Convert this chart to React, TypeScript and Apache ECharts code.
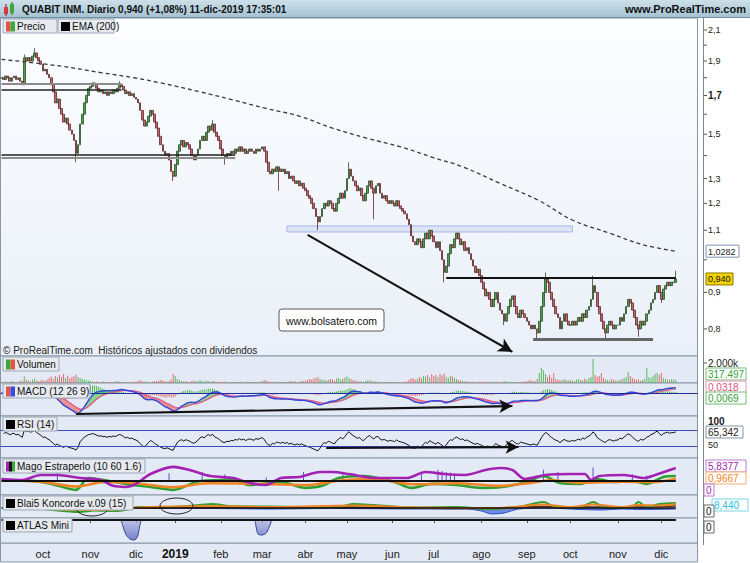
import React, { useEffect, useRef } from 'react';
import * as echarts from 'echarts';

const FONT = '"Liberation Sans", Arial, Helvetica, sans-serif';

// ---- daily closes, by month ----
const closeSep18 = [1.80, 1.79, 1.81, 1.80, 1.78, 1.80, 1.81, 1.79, 1.80, 1.78, 1.76, 1.92, 1.90, 1.92, 1.90, 1.93, 1.95, 1.92, 1.90, 1.88];
const closeOct18 = [1.84, 1.85, 1.82, 1.80, 1.76, 1.72, 1.66, 1.68, 1.63, 1.60, 1.56, 1.58, 1.55, 1.52, 1.50, 1.47, 1.41, 1.45, 1.55, 1.60, 1.66, 1.70, 1.74];
const closeNov18 = [1.75, 1.77, 1.76, 1.74, 1.72, 1.73, 1.71, 1.72, 1.70, 1.72, 1.71, 1.73, 1.72, 1.74, 1.76, 1.75, 1.73, 1.71, 1.72, 1.70, 1.71, 1.69];
const closeDec18 = [1.68, 1.66, 1.62, 1.57, 1.54, 1.56, 1.59, 1.62, 1.60, 1.56, 1.53, 1.49, 1.45, 1.42, 1.40, 1.41, 1.38, 1.33, 1.31];
const closeJan19 = [1.36, 1.42, 1.45, 1.47, 1.44, 1.46, 1.45, 1.43, 1.40, 1.38, 1.40, 1.43, 1.47, 1.49, 1.47, 1.51, 1.54, 1.52, 1.55, 1.51, 1.49, 1.47];
const closeFeb19 = [1.43, 1.40, 1.39, 1.41, 1.40, 1.42, 1.41, 1.43, 1.42, 1.44, 1.42, 1.43, 1.41, 1.42, 1.43, 1.42, 1.41, 1.43, 1.42, 1.43];
const closeMar19 = [1.44, 1.42, 1.37, 1.33, 1.32, 1.34, 1.33, 1.35, 1.34, 1.33, 1.34, 1.32, 1.33, 1.30, 1.31, 1.29, 1.28, 1.29, 1.27, 1.28, 1.26];
const closeApr19 = [1.25, 1.23, 1.22, 1.20, 1.18, 1.15, 1.13, 1.15, 1.18, 1.20, 1.19, 1.21, 1.20, 1.18, 1.17, 1.20, 1.22, 1.24, 1.22, 1.25];
const closeMay19 = [1.30, 1.34, 1.31, 1.29, 1.27, 1.25, 1.26, 1.23, 1.21, 1.24, 1.27, 1.29, 1.26, 1.24, 1.27, 1.28, 1.24, 1.22, 1.23, 1.21, 1.20, 1.21];
const closeJun19 = [1.20, 1.19, 1.21, 1.19, 1.18, 1.17, 1.16, 1.14, 1.12, 1.08, 1.06, 1.05, 1.07, 1.06, 1.04, 1.07, 1.09, 1.07, 1.10, 1.08];
const closeJul19 = [1.06, 1.04, 1.06, 1.03, 1.00, 0.96, 0.98, 1.02, 1.05, 1.04, 1.07, 1.09, 1.07, 1.05, 1.06, 1.03, 1.04, 1.02, 1.00, 0.98, 0.96, 0.97, 0.95];
const closeAug19 = [0.93, 0.91, 0.89, 0.90, 0.88, 0.86, 0.88, 0.90, 0.87, 0.85, 0.84, 0.82, 0.84, 0.86, 0.88, 0.89, 0.86, 0.84, 0.83, 0.85, 0.84, 0.83];
const closeSep19 = [0.82, 0.81, 0.80, 0.81, 0.80, 0.79, 0.82, 0.86, 0.90, 0.94, 0.93, 0.90, 0.88, 0.86, 0.84, 0.83, 0.80, 0.82, 0.84, 0.82, 0.81];
const closeOct19 = [0.81, 0.82, 0.81, 0.82, 0.83, 0.82, 0.84, 0.83, 0.85, 0.86, 0.88, 0.92, 0.90, 0.86, 0.84, 0.82, 0.80, 0.79, 0.81, 0.82, 0.81, 0.80, 0.81];
const closeNov19 = [0.81, 0.83, 0.82, 0.84, 0.86, 0.88, 0.87, 0.85, 0.83, 0.81, 0.80, 0.82, 0.81, 0.82, 0.84, 0.85, 0.87, 0.88, 0.90, 0.92, 0.90];
const closeDec19 = [0.88, 0.91, 0.92, 0.93, 0.92, 0.93, 0.93, 0.94];

// notable wicks [dayIndex, price]
const wickHigh = [[11, 1.94], [16, 1.98], [57, 1.78], [102, 1.57], [168, 1.37], [263, 0.96], [286, 0.95], [326, 0.965]];
const wickLow = [[36, 1.37], [83, 1.29], [108, 1.36], [134, 1.25], [153, 1.10], [180, 1.14], [214, 0.93], [243, 0.81], [259, 0.775], [292, 0.775], [308, 0.78], [319, 0.87]];

// ---- daily volume (thousands) by month ----
const volSep18 = [120, 80, 150, 60, 90, 200, 110, 70, 130, 250, 180, 650, 300, 250, 150, 350, 420, 200, 180, 260];
const volOct18 = [300, 200, 350, 500, 650, 400, 700, 550, 800, 600, 900, 500, 750, 450, 600, 700, 850, 600, 500, 400, 350, 300, 250];
const volNov18 = [200, 150, 120, 180, 100, 90, 140, 80, 110, 70, 130, 90, 150, 200, 120, 80, 100, 60, 90, 110, 70, 130];
const volDec18 = [150, 200, 300, 180, 120, 150, 100, 90, 160, 200, 180, 250, 300, 220, 180, 150, 200, 350, 900];
const volJan19 = [700, 400, 300, 200, 150, 180, 120, 100, 200, 250, 150, 180, 300, 200, 150, 250, 180, 120, 200, 150, 100, 130];
const volFeb19 = [120, 90, 150, 80, 100, 70, 130, 90, 110, 80, 150, 100, 90, 120, 70, 100, 80, 110, 90, 130];
const volMar19 = [200, 300, 250, 150, 120, 100, 150, 90, 110, 80, 100, 130, 90, 150, 200, 120, 180, 100, 150, 220, 180];
const volApr19 = [250, 300, 400, 350, 450, 500, 600, 400, 300, 350, 250, 300, 400, 350, 250, 450, 500, 350, 400, 550];
const volMay19 = [650, 500, 400, 300, 250, 200, 150, 180, 120, 200, 250, 300, 200, 150, 180, 120, 100, 90, 110, 80, 100, 90];
const volJun19 = [80, 100, 70, 90, 60, 80, 120, 150, 300, 450, 500, 350, 400, 600, 500, 700, 650, 800, 550, 900];
const volJul19 = [700, 800, 600, 900, 750, 950, 600, 500, 700, 650, 500, 400, 300, 250, 200, 180, 150, 120, 100, 130, 90, 110, 150];
const volAug19 = [120, 100, 150, 90, 80, 120, 100, 150, 130, 90, 80, 200, 150, 100, 120, 90, 80, 110, 100, 90, 150, 130];
const volSep19 = [200, 250, 300, 180, 200, 400, 1000, 1500, 1300, 900, 600, 800, 500, 1000, 400, 350, 300, 250, 400, 300, 250];
const volOct19 = [300, 250, 200, 350, 400, 300, 250, 450, 300, 500, 600, 2400, 800, 600, 700, 1000, 500, 350, 300, 250, 400, 300, 250];
const volNov19 = [250, 300, 400, 500, 600, 1100, 700, 500, 400, 300, 350, 250, 300, 400, 1500, 600, 500, 700, 900, 1000, 800];
const volDec19 = [1000, 500, 400, 350, 300, 400, 350, 317.5];

// EMA(200) read at points [dayIndex, price]
const emaPoints = [[0, 1.91], [28, 1.87], [48, 1.83], [64, 1.80], [77, 1.77], [96, 1.72], [112, 1.675], [128, 1.63], [144, 1.59], [160, 1.53], [177, 1.48], [193, 1.44], [209, 1.39], [223, 1.35], [241, 1.28], [260, 1.21], [276, 1.137], [294, 1.09], [310, 1.05], [326, 1.028]];

// Mago Estraperlo lines [dayIndex, value]
const magoPurple = [[0, 0.9], [10, 0.45], [19, 2.7], [27, 2.7], [38, 1.3], [48, 0.4], [54, -2.2], [60, -2.7], [65, -1.3], [72, 3.1], [83, 6.3], [91, 4.9], [101, 2.2], [112, 1.3], [120, -0.9], [128, -1.8], [135, 1.3], [144, 1.8], [154, 4.0], [160, 4.0], [168, 3.1], [181, 1.3], [196, 1.3], [205, 4.0], [214, 3.1], [224, 2.7], [234, 4.9], [241, 5.8], [247, 4.9], [253, 0.9], [263, 2.7], [275, 3.1], [282, 3.1], [285, 0.45], [289, 2.2], [301, 2.7], [311, 1.3], [316, 2.7], [326, 5.8]];
const magoGreen = [[0, 0.45], [16, 0], [24, -1.3], [36, -4.0], [42, 1.3], [52, 0], [60, -1.3], [72, -2.7], [83, -4.0], [96, 0], [112, 0.45], [120, -1.8], [135, -0.45], [147, -3.1], [155, -2.2], [163, 1.3], [175, 2.2], [190, -0.45], [198, -3.1], [208, -1.3], [220, -1.8], [232, -3.1], [242, -2.7], [254, -0.45], [262, 2.2], [270, -0.9], [280, -1.3], [288, 0.9], [296, -0.45], [305, 0], [312, -1.3], [320, 1.8], [326, 2.2]];
const magoOrange = [[0, 0.4], [20, -0.5], [36, -2.5], [50, -0.5], [65, -1.0], [83, -2.8], [100, -1.0], [120, -1.2], [147, -1.8], [165, 0.3], [180, 0.8], [200, -1.5], [220, -1.0], [240, -2.2], [255, -1.0], [265, 0.3], [280, -0.8], [300, -0.3], [315, -0.5], [326, 1.0]];
const magoSpikes = [[27, 4], [81, 3.5], [97, 4], [108, 3], [128, 1.5], [146, 4], [165, 3], [203, 3.5], [211, 5], [213, 4.5], [215, 4], [217, 3.8], [219, 3.5], [262, 5], [269, 4], [286, 6], [305, 3], [312, 2.5]];

// Blai5 Koncorde lines [dayIndex, value]
const koncGreen = [[20, -1], [30, -3], [38, -4], [45, -2.5], [55, -3], [62, -1], [66, 1], [80, 1], [96, 3], [102, 4], [110, 2], [130, 1.5], [150, 1], [165, 2], [170, 4], [180, 3], [200, 0.5], [220, 1], [235, -1], [250, 1], [262, 6], [268, 1], [280, 1], [286, 6], [292, 0], [305, 1.5], [308, 6], [312, 1], [318, 4], [326, 5]];
const koncOrange = [[20, -0.5], [38, -2], [55, -1.5], [66, 0.5], [100, 2], [130, 1], [170, 2.5], [200, 0.5], [240, 0], [262, 3.5], [275, 1], [286, 3.5], [300, 1], [308, 3], [318, 2.5], [326, 4]];
const koncDark = [[20, 0], [66, 0], [100, 1], [130, 0.5], [170, 1], [200, 0], [230, -0.5], [262, 1.5], [286, 1], [308, 1], [326, 2]];
const koncBlue = [[0, 0], [66, -0.5], [100, -0.5], [130, -1], [160, -0.5], [200, -1], [225, -1], [232, -3], [237, -6], [243, -5], [250, -1], [262, 0], [280, -1.5], [290, -2], [300, -1], [310, -1.5], [326, -1]];

// ATLAS Mini [dayIndex, value]
const atlasPts = [[0, 0], [57, 0], [59, -8], [60, -14], [62, -19], [64, -20], [65, -19], [66, -15], [67, -4], [68, 0], [122, 0], [123, -6], [124, -14], [126, -15], [128, -13], [130, -4], [131, 0], [326, 0]];

// axis labels
const monthLabels = ['oct', 'nov', 'dic', '2019', 'feb', 'mar', 'abr', 'may', 'jun', 'jul', 'ago', 'sep', 'oct', 'nov', 'dic'];
const priceTickLabels = [2.1, 1.9, 1.7, 1.5, 1.3, 1.2, 1.1, 0.9, 0.8];
const priceMinorTicks = [2.0, 1.8, 1.6, 1.4, 1.0];
const holidays = ['2018-12-25', '2018-12-26', '2019-01-01', '2019-04-19', '2019-04-22', '2019-05-01', '2019-12-24', '2019-12-25', '2019-12-26'];
const START_DATE = '2018-09-03';
const SLOT_COUNT = 337;

const closes = [...closeSep18, ...closeOct18, ...closeNov18, ...closeDec18, ...closeJan19, ...closeFeb19, ...closeMar19, ...closeApr19, ...closeMay19, ...closeJun19, ...closeJul19, ...closeAug19, ...closeSep19, ...closeOct19, ...closeNov19, ...closeDec19];
const volumes = [...volSep18, ...volOct18, ...volNov18, ...volDec18, ...volJan19, ...volFeb19, ...volMar19, ...volApr19, ...volMay19, ...volJun19, ...volJul19, ...volAug19, ...volSep19, ...volOct19, ...volNov19, ...volDec19];

function tradingDays(start: string, count: number): string[] {
  const out: string[] = [];
  const d = new Date(start + 'T12:00:00Z');
  while (out.length < count) {
    const wd = d.getUTCDay();
    const s = d.toISOString().slice(0, 10);
    if (wd !== 0 && wd !== 6 && holidays.indexOf(s) < 0) out.push(s);
    d.setUTCDate(d.getUTCDate() + 1);
  }
  return out;
}

function emaOf(arr: number[], p: number): number[] {
  const k = 2 / (p + 1);
  const out: number[] = [];
  let e = arr[0];
  arr.forEach((v, i) => {
    e = i === 0 ? v : v * k + e * (1 - k);
    out.push(e);
  });
  return out;
}

export default function App() {
  const ref = useRef<HTMLDivElement>(null);

  useEffect(() => {
    const el = ref.current as HTMLDivElement;
    const chart = echarts.init(el, null, { renderer: 'svg' });
    const n = closes.length;
    const L = Math.log;
    const dates = tradingDays(START_DATE, SLOT_COUNT);

    // month starts
    const monthStart = new Map<number, string>();
    let mi = 0;
    for (let i = 1; i < dates.length; i++) {
      if (dates[i].slice(0, 7) !== dates[i - 1].slice(0, 7) && mi < monthLabels.length) {
        monthStart.set(i, monthLabels[mi]);
        mi++;
      }
    }
    const tickFn = (idx: number) => monthStart.has(idx);

    const sparse = (pts: number[][]) => {
      const arr: any[] = new Array(n).fill(null);
      pts.forEach(([i, v]) => { arr[i] = v; });
      return arr;
    };

    // candles
    const hiMap = new Map(wickHigh.map(([i, v]) => [i, v]));
    const loMap = new Map(wickLow.map(([i, v]) => [i, v]));
    const candles = closes.map((c, i) => {
      const o = i === 0 ? c : closes[i - 1];
      const h = Math.max(o, c, hiMap.get(i) || 0);
      const l = Math.min(o, c, loMap.get(i) || 99);
      return [L(o), L(c), L(l), L(h)];
    });

    const volData = volumes.map((v, i) => ({
      value: v,
      itemStyle: { color: i === 0 || closes[i] >= closes[i - 1] ? '#5cb85c' : '#e06a6a' },
    }));

    // MACD 12 26 9
    const e12 = emaOf(closes, 12);
    const e26 = emaOf(closes, 26);
    const macd = e12.map((v, i) => v - e26[i]);
    const signal = emaOf(macd, 9);
    const hist = macd.map((v, i) => v - signal[i]);
    const macdLow = Math.min(...macd, ...signal);
    const macdMin = macdLow * 1.12;
    const macdMax = -macdMin * 10 / 23;
    const macdAt = (y: number) => macdMax - (y - 383) / 33 * (macdMax - macdMin);
    const macdFill: number[][] = [];
    for (let i = 0; i < n - 1; i++) macdFill.push([i, macd[i], signal[i], macd[i + 1], signal[i + 1]]);

    // RSI 14
    let ag = 0, al = 0;
    for (let i = 1; i <= 14; i++) {
      const ch = closes[i] - closes[i - 1];
      ag += Math.max(ch, 0) / 14;
      al += Math.max(-ch, 0) / 14;
    }
    const rsi: any[] = [null];
    for (let i = 1; i < n; i++) {
      const ch = closes[i] - closes[i - 1];
      ag = (ag * 13 + Math.max(ch, 0)) / 14;
      al = (al * 13 + Math.max(-ch, 0)) / 14;
      rsi.push(al === 0 ? 100 : 100 - 100 / (1 + ag / al));
    }

    const panels = [
      { top: 18, height: 338 },
      { top: 356, height: 27 },
      { top: 383, height: 33 },
      { top: 416, height: 42 },
      { top: 458, height: 37 },
      { top: 495, height: 23 },
      { top: 518, height: 25 },
    ];
    const lowerBg = '#e3eaf6';
    const grid = panels.map((p, k) => ({
      left: 0.5, width: 697, top: p.top, height: p.height, show: true,
      backgroundColor: k === 0
        ? new echarts.graphic.LinearGradient(0, 0, 0, 1, [{ offset: 0, color: '#fcfdff' }, { offset: 1, color: '#eaf0f8' }])
        : lowerBg,
      borderColor: '#8796a8', borderWidth: 1,
    }));

    const xAxis = panels.map((p, k) => ({
      type: 'category', gridIndex: k, data: dates, boundaryGap: true,
      show: k === 6,
      axisLine: { show: false },
      axisTick: { show: true, interval: tickFn, alignWithLabel: true, length: 3, lineStyle: { color: '#555' } },
      axisLabel: {
        interval: tickFn, color: '#222', fontSize: 11, fontFamily: FONT, margin: 5,
        formatter: (_v: string, idx: number) => {
          const t = monthStart.get(idx) || '';
          return t === '2019' ? '{b|2019}' : t;
        },
        rich: { b: { fontWeight: 'bold', fontSize: 12, fontFamily: FONT, color: '#111' } },
      },
      splitLine: { show: false },
    }));

    const yRanges = [
      [L(0.733), L(2.183)], [0, 2700], [macdMin, macdMax], [0, 105], [-6.3, 10.3], [-10, 13], [-23, 2],
    ];
    const yAxis = yRanges.map((r, k) => ({
      type: 'value', gridIndex: k, min: r[0], max: r[1], show: false, splitLine: { show: false },
    }));

    const hLine = (i0: number, i1: number, p: number, color: string, width: number) => [
      { coord: [i0, L(p)], lineStyle: { color, width, type: 'solid' } },
      { coord: [i1, L(p)] },
    ];

    const lineS = (name: string, k: number, data: any[], color: string, width: number, extra: any = {}) => ({
      name, type: 'line', xAxisIndex: k, yAxisIndex: k, data, showSymbol: false, symbol: 'none',
      connectNulls: true, lineStyle: { color, width }, itemStyle: { color }, silent: true, ...extra,
    });

    const series: any[] = [
      {
        name: 'Precio', type: 'candlestick', xAxisIndex: 0, yAxisIndex: 0, data: candles,
        barWidth: 2.2,
        itemStyle: { color: '#4f9e4f', color0: '#c8646e', borderColor: '#2c4f2c', borderColor0: '#5e2a2e', borderWidth: 0.8 },
        markArea: {
          silent: true,
          itemStyle: { color: 'rgba(196,210,242,0.45)', borderColor: '#a6b6e6', borderWidth: 1 },
          data: [[{ coord: [138, L(1.1155)] }, { coord: [276, L(1.094)] }]],
        },
        markLine: {
          silent: true, symbol: ['none', 'none'], label: { show: false },
          data: [
            hLine(0, 58, 1.765, '#8c8c8c', 2),
            hLine(0, 58, 1.73, '#222', 1.5),
            hLine(0, 113, 1.403, '#222', 1.5),
            hLine(0, 113, 1.389, '#8c8c8c', 2),
            hLine(215, 326, 0.943, '#111', 2),
            hLine(257, 315, 0.7745, '#666', 3),
          ],
        },
      },
      lineS('EMA (200)', 0, sparse(emaPoints.map(([i, v]) => [i, L(v)])), '#3a3a3a', 1.3, {
        smooth: 0.4,
        lineStyle: { color: '#3a3a3a', width: 1.3, type: [4, 3] },
        markLine: {
          silent: true, symbol: ['none', 'arrow'], symbolSize: [11, 14], label: { show: false },
          lineStyle: { color: '#111', width: 2, type: 'solid' },
          data: [[{ coord: [148, L(1.0836)] }, { coord: [247, L(0.7428)] }]],
        },
      }),
      {
        name: 'Volumen', type: 'bar', xAxisIndex: 1, yAxisIndex: 1, data: volData, barWidth: 1, silent: true,
      },
      {
        name: 'MACDfill', type: 'custom', xAxisIndex: 2, yAxisIndex: 2, data: macdFill, silent: true,
        encode: { x: 0, y: [1, 2, 3, 4] },
        renderItem: (_p: any, api: any) => {
          const i = api.value(0);
          const m0 = api.value(1), s0 = api.value(2), m1 = api.value(3), s1 = api.value(4);
          const fill = m0 + m1 >= s0 + s1 ? '#86d486' : '#ef9090';
          return {
            type: 'polygon',
            shape: { points: [api.coord([i, m0]), api.coord([i + 1, m1]), api.coord([i + 1, s1]), api.coord([i, s0])] },
            style: { fill, stroke: fill, lineWidth: 0.6 },
          };
        },
      },
      {
        name: 'hist', type: 'bar', xAxisIndex: 2, yAxisIndex: 2, barWidth: 1, silent: true,
        data: hist.map((v) => ({ value: v, itemStyle: { color: v >= 0 ? '#4bb84b' : '#e26a6a' } })),
      },
      lineS('signal', 2, signal, '#e0608c', 1.4, {
        markLine: {
          silent: true, symbol: ['none', 'none'], label: { show: false },
          lineStyle: { color: '#1f2fa0', width: 1.2, type: 'solid' },
          data: [{ yAxis: 0 }],
        },
      }),
      lineS('macd', 2, macd, '#2f46e0', 1.4, {
        markLine: {
          silent: true, symbol: ['none', 'arrow'], symbolSize: [10, 13], label: { show: false },
          lineStyle: { color: '#111', width: 2.2, type: 'solid' },
          data: [[{ coord: [36, macdAt(414)] }, { coord: [247, macdAt(406)] }]],
        },
      }),
      lineS('RSI', 3, rsi, '#111', 1, {
        markLine: {
          silent: true, symbol: ['none', 'none'], label: { show: false },
          lineStyle: { color: '#3a48c8', width: 1, type: 'solid' },
          data: [{ yAxis: 70 }, { yAxis: 30 }],
        },
      }),
      lineS('RSIarrow', 3, [], '#111', 1, {
        markLine: {
          silent: true, symbol: ['none', 'arrow'], symbolSize: [10, 13], label: { show: false },
          lineStyle: { color: '#111', width: 2.2, type: 'solid' },
          data: [[{ coord: [157, 25] }, { coord: [250, 27.5] }]],
        },
      }),
      {
        name: 'spikes', type: 'bar', xAxisIndex: 4, yAxisIndex: 4, barWidth: 1, silent: true,
        data: sparse(magoSpikes).map((v) => (v === null ? '-' : v)),
        itemStyle: { color: '#5a4ad8' },
      },
      lineS('magoGreen', 4, sparse(magoGreen), '#2f9e2f', 2.6, {
        smooth: 0.3,
        markLine: {
          silent: true, symbol: ['none', 'none'], label: { show: false },
          lineStyle: { color: '#111', width: 2, type: 'solid' },
          data: [[{ coord: [0, 0] }, { coord: [326, 0] }]],
        },
      }),
      lineS('magoOrange', 4, sparse(magoOrange), '#f08424', 2.6, { smooth: 0.3 }),
      lineS('magoPurple', 4, sparse(magoPurple), '#a322b3', 2.6, { smooth: 0.3 }),
      lineS('koncBlue', 5, sparse(koncBlue), '#3050c8', 1, {
        smooth: 0.3, areaStyle: { color: '#5a78e0', opacity: 0.85 },
        markLine: {
          silent: true, symbol: ['none', 'none'], label: { show: false },
          lineStyle: { color: '#111', width: 1.5, type: 'solid' },
          data: [[{ coord: [0, 0] }, { coord: [326, 0] }]],
        },
      }),
      lineS('koncDark', 5, sparse(koncDark), '#5a2a1a', 1.6, { smooth: 0.3 }),
      lineS('koncGreen', 5, sparse(koncGreen), '#2f9e2f', 2, { smooth: 0.3 }),
      lineS('koncOrange', 5, sparse(koncOrange), '#f08424', 2, { smooth: 0.3 }),
      lineS('atlas', 6, sparse(atlasPts), '#3a4396', 1, {
        smooth: 0.3,
        areaStyle: { color: new echarts.graphic.LinearGradient(0, 0, 0, 1, [{ offset: 0, color: '#a9b1e2' }, { offset: 1, color: '#4c56b2' }]) },
        markLine: {
          silent: true, symbol: ['none', 'none'], label: { show: false },
          lineStyle: { color: '#111', width: 2, type: 'solid' },
          data: [[{ coord: [0, 0] }, { coord: [326, 0] }]],
        },
      }),
    ];

    chart.setOption({
      animation: false,
      backgroundColor: '#ffffff',
      grid, xAxis, yAxis, series,
    });

    // ---- overlay texts and boxes ----
    const py = (v: number) => chart.convertToPixel({ yAxisIndex: 0 }, L(v)) as number;
    const g: any[] = [];
    const txt = (x: number, y: number, text: string, opts: any = {}) => ({
      type: 'text', x, y, z: 120,
      style: {
        text, fill: opts.fill || '#222', fontSize: opts.size || 10, fontFamily: FONT,
        fontWeight: opts.bold ? 'bold' : 'normal', textAlign: opts.align || 'left', textVerticalAlign: 'middle',
      },
    });
    const valueBox = (x: number, y: number, w: number, text: string, color: string, stroke: string, bg = '#ffffff', size = 10) => ({
      type: 'group', x, y: y - 6, z: 120,
      children: [
        { type: 'rect', z: 120, shape: { x: 0, y: 0, width: w, height: 12 }, style: { fill: bg, stroke, lineWidth: 1 } },
        { type: 'text', z: 121, x: 2, y: 6.5, style: { text, fill: color, fontSize: size, fontFamily: FONT, textVerticalAlign: 'middle' } },
      ],
    });
    const labelBox = (x: number, y: number, w: number, text: string, icons: string[]) => {
      const kids: any[] = [
        { type: 'rect', z: 110, shape: { x: 0, y: 0, width: w, height: 14 }, style: { fill: '#e6eaef', stroke: '#9ba7b6', lineWidth: 1 } },
      ];
      if (icons.length === 1) {
        kids.push({ type: 'rect', z: 111, shape: { x: 3, y: 3, width: 9, height: 9 }, style: { fill: icons[0] } });
      } else {
        const bw = 9 / icons.length;
        icons.forEach((c, k) => kids.push({ type: 'rect', z: 111, shape: { x: 3 + k * bw, y: 2.5, width: bw, height: 10 }, style: { fill: c } }));
      }
      kids.push({ type: 'text', z: 112, x: 14, y: 7.5, style: { text, fill: '#111', fontSize: 10, fontFamily: FONT, textVerticalAlign: 'middle' } });
      return { type: 'group', x, y, z: 110, children: kids };
    };

    // header bar
    g.push({
      type: 'rect', z: 100, shape: { x: 0, y: 0, width: 750, height: 18 },
      style: { fill: new echarts.graphic.LinearGradient(0, 0, 0, 1, [{ offset: 0, color: '#cde0ea' }, { offset: 1, color: '#a3c1d1' }]) },
    });
    g.push({ type: 'line', z: 101, shape: { x1: 0, y1: 17.5, x2: 750, y2: 17.5 }, style: { stroke: '#6f8fa2', lineWidth: 1 } });
    g.push({ type: 'line', z: 101, shape: { x1: 6, y1: 4, x2: 6, y2: 16 }, style: { stroke: '#7a2020', lineWidth: 1 } });
    g.push({ type: 'rect', z: 102, shape: { x: 4, y: 7, width: 4, height: 7 }, style: { fill: '#d8383a' } });
    g.push({ type: 'line', z: 101, shape: { x1: 12, y1: 2, x2: 12, y2: 15 }, style: { stroke: '#1e6a1e', lineWidth: 1 } });
    g.push({ type: 'rect', z: 102, shape: { x: 10, y: 4, width: 4, height: 9 }, style: { fill: '#3aa83a' } });
    g.push(txt(22, 9, 'QUABIT INM. Diario 0,940 (+1,08%) 11-dic-2019 17:35:01', { bold: true, size: 10, fill: '#111' }));
    g.push(txt(746, 9, 'www.ProRealTime.com', { bold: true, size: 11, fill: '#111', align: 'right' }));

    // right axis line
    g.push({ type: 'line', z: 100, shape: { x1: 703.5, y1: 18, x2: 703.5, y2: 545 }, style: { stroke: '#7a8898', lineWidth: 1 } });

    // price ticks
    priceMinorTicks.forEach((v) => {
      const y = py(v);
      g.push({ type: 'line', z: 100, shape: { x1: 703.5, y1: y, x2: 707, y2: y }, style: { stroke: '#555', lineWidth: 1 } });
    });
    priceTickLabels.forEach((v) => {
      const y = py(v);
      g.push({ type: 'line', z: 100, shape: { x1: 703.5, y1: y, x2: 707, y2: y }, style: { stroke: '#555', lineWidth: 1 } });
      g.push(txt(708, y, String(v).replace('.', ','), { size: v === 1.7 ? 10 : 9, bold: v === 1.7, fill: '#222' }));
    });
    g.push(valueBox(706, py(1.0282), 33, '1,0282', '#222', '#7f95b5', '#ffffff', 9));
    g.push(valueBox(706, py(0.94), 27, '0,940', '#111', '#8a7a00', '#f2d200', 9));

    // volume labels
    g.push({ type: 'line', z: 100, shape: { x1: 703.5, y1: 363, x2: 707, y2: 363 }, style: { stroke: '#555' } });
    g.push(txt(708, 363, '2.000k', { size: 10 }));
    g.push(valueBox(706, 374, 40, '317.497', '#35a035', '#76bb76'));
    // MACD labels
    g.push(valueBox(706, 387, 40, '0,0318', '#e0507f', '#e59ab2'));
    g.push(valueBox(706, 398, 40, '0,0069', '#35a035', '#76bb76'));
    // RSI labels
    g.push(txt(708, 421, '100', { size: 10, bold: true }));
    g.push(txt(708, 445, '50', { size: 9 }));
    g.push(valueBox(706, 432, 37, '65,342', '#222', '#8594ad'));
    // Mago labels
    g.push(valueBox(706, 466, 40, '5,8377', '#a322b3', '#b97ccc'));
    g.push(valueBox(706, 478, 40, '0,9667', '#f08424', '#f0b070'));
    g.push(valueBox(704, 490, 10, '0', '#a322b3', '#b97ccc'));
    // Koncorde labels
    g.push(valueBox(712, 505, 36, '8,440', '#2cc0dc', '#7bd3e6'));
    g.push(valueBox(704, 511, 10, '0', '#111', '#666'));
    // Atlas label
    g.push(valueBox(704, 527, 10, '0', '#111', '#666'));

    // bottom axis strip
    g.push({ type: 'rect', z: -1, shape: { x: 0.5, y: 543, width: 697, height: 19 }, style: { fill: '#e3eaf6', stroke: '#8796a8', lineWidth: 1 } });

    // Koncorde ellipses (under the legend box)
    g.push({ type: 'ellipse', z: 105, shape: { cx: 92, cy: 508, rx: 16, ry: 8 }, style: { fill: 'none', stroke: '#222', lineWidth: 1 } });
    g.push({ type: 'ellipse', z: 105, shape: { cx: 176.5, cy: 506, rx: 16.5, ry: 8 }, style: { fill: 'none', stroke: '#222', lineWidth: 1 } });

    // panel legends
    g.push(labelBox(3, 19, 54, 'Precio', ['#e0554a', '#3aa83a']));
    g.push(labelBox(58, 19, 56, 'EMA (200)', ['#000000']));
    g.push(labelBox(3, 357, 56, 'Volumen', ['#3aa83a', '#e0554a']));
    g.push(labelBox(3, 384, 87, 'MACD (12 26 9)', ['#e0554a', '#3a4ae0']));
    g.push(labelBox(3, 417, 54, 'RSI (14)', ['#000000']));
    g.push(labelBox(3, 459, 142, 'Mago Estraperlo (10 60 1.6)', ['#a322b3', '#111111', '#3aa83a']));
    g.push(labelBox(3, 496, 130, 'Blai5 Koncorde v.09 (15)', ['#000000']));
    g.push(labelBox(3, 518, 69, 'ATLAS Mini', ['#000000']));

    // captions
    g.push(txt(3, 350, '© ProRealTime.com  Históricos ajustados con dividendos', { size: 10, fill: '#222' }));
    g.push({
      type: 'group', x: 279, y: 309, z: 115,
      children: [
        { type: 'rect', z: 115, shape: { x: 0, y: 0, width: 105, height: 22, r: 3 }, style: { fill: '#ffffff', stroke: '#5a5a5a', lineWidth: 1 } },
        { type: 'text', z: 116, x: 52.5, y: 11.5, style: { text: 'www.bolsatero.com', fill: '#111', fontSize: 10.5, fontFamily: FONT, textAlign: 'center', textVerticalAlign: 'middle' } },
      ],
    });

    chart.setOption({ graphic: g });

    return () => chart.dispose();
  }, []);

  return <div ref={ref} style={{ position: 'absolute', left: 0, top: 0, width: 750, height: 563, background: '#fff' }} />;
}
